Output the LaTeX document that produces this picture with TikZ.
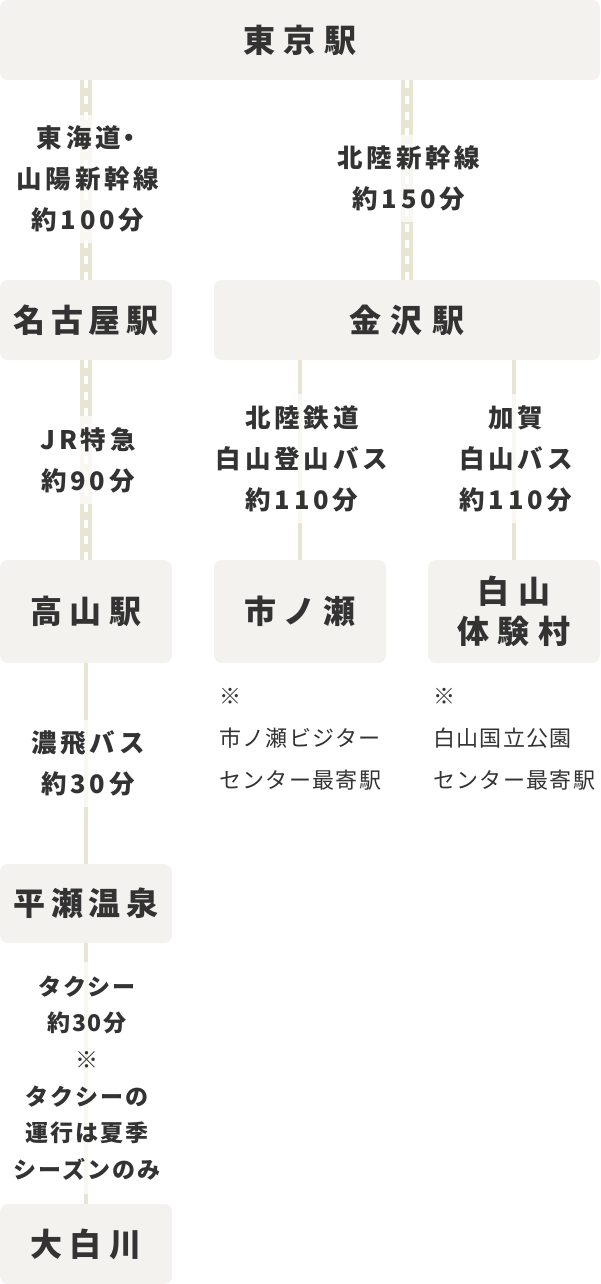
\documentclass[tikz,border=0pt]{standalone}
\usepackage{fontspec}
\setmainfont{Noto Sans CJK JP}
\definecolor{boxc}{HTML}{F3F2EE}
\definecolor{railc}{HTML}{E8E5D3}
\definecolor{txt}{HTML}{333333}
\newcommand\titlefont[1]{\bfseries\fontsize{32pt}{40pt}\selectfont\addfontfeatures{LetterSpace=#1}}
\newcommand\labfont{\bfseries\fontsize{25.5pt}{41pt}\selectfont\addfontfeatures{LetterSpace=15}}
\newcommand\taxifont{\bfseries\fontsize{23pt}{36.6pt}\selectfont\addfontfeatures{LetterSpace=8}}
\newcommand\notefont{\fontsize{22pt}{42pt}\selectfont\addfontfeatures{LetterSpace=6}}
\tikzset{
  box/.style={fill=boxc, rounded corners=8pt, inner sep=0pt, text=txt, align=center},
  rail/.style={draw=railc, line width=12pt, postaction={draw=white, line width=4pt, dash pattern=on 8pt off 8pt}},
  bus/.style={draw=railc, line width=4pt},
  lab/.style={fill=white, fill opacity=0.7, text opacity=1, text=txt, align=center, inner xsep=6pt, inner ysep=11pt, font=\labfont},
  note/.style={text=txt, align=left, anchor=west, inner sep=0pt, font=\notefont},
}
\begin{document}
\begin{tikzpicture}[x=1pt,y=-1pt]
\fill[white] (0,0) rectangle (600,1284);
\useasboundingbox (0,0) rectangle (600,1284);
% stations
\node[box, minimum width=600pt, minimum height=80pt, font=\titlefont{28}] (tokyo) at (300,40) {東京駅};
\node[box, minimum width=172pt, minimum height=80pt, font=\titlefont{18}] (nagoya) at (86,320) {名古屋駅};
\node[box, minimum width=386pt, minimum height=80pt, font=\titlefont{30}] (kanazawa) at (407,320) {金沢駅};
\node[box, minimum width=172pt, minimum height=103pt, font=\titlefont{23}] (takayama) at (86,611.5) {高山駅};
\node[box, minimum width=172pt, minimum height=103pt, font=\titlefont{22}] (ichinose) at (300,611.5) {市ノ瀬};
\node[box, minimum width=172pt, minimum height=103pt, font=\titlefont{26}] (hakusan) at (514,611.5) {白山\\体験村};
\node[box, minimum width=172pt, minimum height=79pt, font=\titlefont{18}] (hirase) at (86,903.5) {平瀬温泉};
\node[box, minimum width=172pt, minimum height=80pt, font=\titlefont{23}] (oshirakawa) at (86,1244) {大白川};
% connectors
\draw[rail] (tokyo.south -| nagoya.north) -- (nagoya.north);
\draw[rail] (tokyo.south -| kanazawa.north) -- (kanazawa.north);
\draw[rail] (nagoya.south) -- (takayama.north);
\draw[bus] (kanazawa.south -| ichinose.north) -- (ichinose.north);
\draw[bus] (kanazawa.south -| hakusan.north) -- (hakusan.north);
\draw[bus] (takayama.south) -- (hirase.north);
\draw[bus] (hirase.south) -- (oshirakawa.north);
% labels
\node[lab] (l1) at (88,179) {東海道\kern-4.5pt・\kern-3pt\\山陽新幹線\\約100分};
\node[lab] (l2) at (409,178.5) {北陸新幹線\\約150分};
\node[lab] (l3) at (88,460) {JR特急\\約90分};
\node[lab] (l4) at (302,458.5) {北陸鉄道\\白山登山バス\\約110分};
\node[lab] (l5) at (516,458.5) {加賀\\白山バス\\約110分};
\node[lab] (l6) at (88,763.5) {濃飛バス\\約30分};
\node[lab, font=\taxifont, inner ysep=14pt] (l7) at (87,1078) {タクシー\\約30分\\※\\タクシーの\\運行は夏季\\シーズンのみ};
% notes
\node[note] (n1) at (219,739) {※\\市ノ瀬ビジター\\センター最寄駅};
\node[note] (n2) at (433,739) {※\\白山国立公園\\センター最寄駅};
\end{tikzpicture}
\end{document}
